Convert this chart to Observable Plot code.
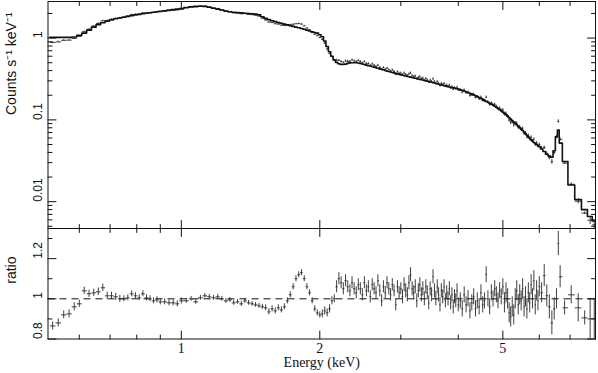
<!DOCTYPE html>
<html><head><meta charset="utf-8">
<script src="https://cdn.jsdelivr.net/npm/d3@7"></script>
<script src="https://cdn.jsdelivr.net/npm/@observablehq/plot@0.6"></script>
<style>
html,body{margin:0;padding:0;background:#fff;}
#chart{width:598px;}
#chart svg{display:block;}
#chart svg.lower{margin-top:-1px;}
</style></head><body><div id="chart"></div>
<script>
// Bin centre energies (keV)
const energy = [
  0.525,0.54,0.555,0.57,0.585,0.60,0.615,0.63,0.645,0.66,0.675,0.69,0.705,0.72,0.735,0.75,0.765,0.78,0.795,0.81,0.825,0.84,0.855,0.87,0.885,0.90,0.92,0.94,0.96,0.98,1.00,
  1.025,1.05,1.075,1.10,1.125,1.15,1.175,1.20,1.225,1.25,1.275,1.30,1.325,1.35,1.375,1.40,1.425,1.45,1.475,1.50,1.525,1.55,1.575,1.60,1.625,1.65,1.675,1.70,1.725,1.75,1.775,1.80,1.825,1.85,1.875,1.90,1.925,1.95,1.975,2.00,
  2.025,2.05,2.075,2.10,2.125,2.15,2.175,2.20,2.225,2.25,2.275,2.30,2.325,2.35,2.375,2.40,2.425,2.45,2.475,2.50,2.525,2.55,2.575,2.60,2.625,2.65,2.675,2.70,2.725,2.75,2.775,2.80,2.825,2.85,2.875,2.90,2.925,2.95,2.975,3.00,
  3.025,3.05,3.075,3.10,3.125,3.15,3.175,3.20,3.225,3.25,3.275,3.30,3.325,3.35,3.375,3.40,3.425,3.45,3.475,3.50,3.525,3.55,3.575,3.60,3.625,3.65,3.675,3.70,3.725,3.75,3.775,3.80,3.825,3.85,3.875,3.90,3.925,3.95,3.975,4.00,
  4.04,4.08,4.12,4.16,4.20,4.24,4.28,4.32,4.36,4.40,4.44,4.48,4.52,4.56,4.60,4.64,4.68,4.72,4.76,4.80,4.84,4.88,4.92,4.96,5.00,
  5.04,5.08,5.12,5.16,5.20,5.24,5.28,5.32,5.36,5.40,5.44,5.48,5.52,5.56,5.60,5.64,5.68,5.72,5.76,5.80,5.84,5.88,5.92,5.96,6.00,
  6.07,6.15,6.23,6.31,6.39,6.465,6.54,6.60,6.66,6.81,7.04,7.29,7.53,7.74,7.90
];
// Folded model (counts s^-1 keV^-1)
const model = [
  1.02,1.02,1.02,1.02,1.03,1.08,1.15,1.25,1.36,1.46,1.54,1.61,1.67,1.72,1.76,1.80,1.84,1.88,1.92,1.95,1.98,2.01,2.04,2.07,2.10,2.13,2.16,2.20,2.23,2.26,2.29,
  2.36,2.41,2.44,2.45,2.43,2.38,2.32,2.26,2.20,2.14,2.10,2.07,2.05,2.03,2.01,1.99,1.98,1.96,1.92,1.82,1.74,1.68,1.63,1.59,1.55,1.52,1.48,1.45,1.42,1.39,1.36,1.34,1.31,1.28,1.25,1.22,1.19,1.17,1.15,1.10,
  1.04,0.92,0.79,0.68,0.60,0.54,0.505,0.485,0.477,0.475,0.48,0.49,0.497,0.50,0.50,0.50,0.495,0.49,0.483,0.475,0.467,0.46,0.455,0.45,0.442,0.435,0.427,0.42,0.415,0.41,0.402,0.395,0.39,0.385,0.38,0.375,0.37,0.365,0.36,0.355,
  0.351,0.348,0.344,0.34,0.336,0.333,0.329,0.326,0.323,0.32,0.316,0.313,0.31,0.307,0.303,0.30,0.297,0.294,0.291,0.288,0.285,0.282,0.279,0.276,0.273,0.27,0.267,0.265,0.262,0.26,0.257,0.255,0.252,0.25,0.248,0.246,0.244,0.242,0.24,0.238,
  0.234,0.230,0.2255,0.221,0.216,0.211,0.2065,0.202,0.1975,0.193,0.188,0.183,0.178,0.173,0.1685,0.164,0.160,0.156,0.1515,0.147,0.1425,0.138,0.1335,0.129,0.1245,
  0.120,0.1155,0.111,0.1065,0.102,0.098,0.094,0.0905,0.087,0.0835,0.080,0.077,0.074,0.071,0.068,0.065,0.062,0.0595,0.057,0.055,0.053,0.0515,0.050,0.0485,0.047,
  0.044,0.041,0.038,0.036,0.035,0.042,0.062,0.075,0.052,0.031,0.016,0.0106,0.0080,0.0066,0.0058
];
// Data / model ratio
const ratio = [
  0.865,0.88,0.92,0.925,0.96,0.975,1.04,1.025,1.03,1.035,1.055,1.015,1.015,1.01,1.0,1.0,1.005,1.025,1.015,1.005,1.025,1.005,1.0,0.99,0.995,0.985,0.985,0.98,0.98,0.975,0.99,
  0.99,1.0,0.985,1.005,1.015,1.01,1.005,1.01,1.0,0.99,0.995,0.98,0.985,0.975,0.99,0.98,0.975,0.97,0.965,0.96,0.955,0.935,0.95,0.94,0.955,0.945,0.96,0.99,1.02,1.06,1.10,1.12,1.13,1.10,1.06,1.03,0.99,0.95,0.93,0.92,
  0.925,0.94,0.93,0.95,0.99,1.0,1.06,1.10,1.08,1.05,1.09,1.06,1.04,1.08,1.05,1.03,1.07,1.05,1.02,1.08,1.04,1.06,1.01,1.07,1.05,1.03,1.09,1.04,0.99,1.06,1.03,1.08,1.05,1.02,1.07,1.04,0.97,1.06,1.03,1.05,
  1.01,1.07,1.04,1.02,1.08,1.12,1.05,1.03,1.06,0.99,1.04,1.07,1.02,1.05,1.0,1.06,1.03,0.98,1.05,1.02,1.11,1.04,1.0,1.06,1.02,0.97,1.04,1.01,1.06,0.99,1.03,1.0,1.05,0.98,1.02,0.96,1.01,0.99,1.04,0.97,
  0.99,0.95,1.02,0.97,1.0,0.94,0.98,1.01,0.95,0.99,0.96,1.03,0.97,0.99,1.12,1.0,0.96,1.03,1.0,1.05,1.02,0.99,1.04,1.01,1.06,
  0.98,1.03,1.0,0.93,0.91,0.96,0.92,1.0,1.04,0.97,1.02,0.99,1.05,0.96,1.01,0.95,1.03,0.98,1.07,1.0,1.09,0.97,1.04,0.99,1.06,
  1.03,1.115,1.015,0.96,0.88,0.95,1.0,1.275,1.11,0.955,1.02,0.955,0.905,0.9,0.9
];
// 1-sigma ratio uncertainty
const ratioErr = [
  0.02,0.02,0.02,0.02,0.02,0.018,0.018,0.018,0.018,0.018,0.018,0.018,0.018,0.018,0.018,0.015,0.015,0.015,0.015,0.015,0.015,0.015,0.015,0.015,0.015,0.015,0.015,0.015,0.015,0.015,0.015,
  0.012,0.012,0.012,0.012,0.012,0.012,0.012,0.012,0.012,0.012,0.012,0.012,0.012,0.012,0.012,0.012,0.012,0.012,0.012,0.012,0.015,0.015,0.015,0.015,0.015,0.015,0.015,0.015,0.015,0.015,0.015,0.015,0.015,0.015,0.015,0.015,0.015,0.015,0.015,0.015,
  0.02,0.02,0.02,0.02,0.02,0.02,0.03,0.03,0.03,0.03,0.03,0.03,0.03,0.03,0.03,0.03,0.03,0.03,0.03,0.03,0.03,0.03,0.03,0.03,0.03,0.03,0.03,0.03,0.03,0.03,0.03,0.03,0.03,0.03,0.03,0.03,0.03,0.03,0.03,0.03,
  0.035,0.035,0.035,0.035,0.035,0.035,0.035,0.035,0.035,0.035,0.035,0.035,0.035,0.035,0.035,0.035,0.035,0.035,0.035,0.035,0.035,0.035,0.035,0.035,0.035,0.035,0.035,0.035,0.035,0.035,0.035,0.035,0.035,0.035,0.035,0.035,0.035,0.035,0.035,0.035,
  0.04,0.04,0.04,0.04,0.04,0.04,0.04,0.04,0.04,0.04,0.04,0.04,0.04,0.04,0.04,0.04,0.04,0.04,0.04,0.04,0.04,0.04,0.04,0.04,0.04,
  0.05,0.05,0.05,0.05,0.05,0.05,0.05,0.05,0.05,0.05,0.05,0.05,0.05,0.05,0.05,0.05,0.05,0.05,0.05,0.05,0.05,0.05,0.05,0.05,0.05,
  0.05,0.055,0.055,0.06,0.06,0.055,0.05,0.06,0.055,0.035,0.045,0.07,0.035,0.1,0.1
];
const energyTicks = [1, 2, 5];
const energyMinorTicks = [0.6, 0.7, 0.8, 0.9, 3, 4, 6, 7];
const countTicks = [0.01, 0.1, 1];
const countTickLabels = ["0.01", "0.1", "1"];
const countMinorTicks = [0.005,0.006,0.007,0.008,0.009,0.02,0.03,0.04,0.05,0.06,0.07,0.08,0.09,0.2,0.3,0.4,0.5,0.6,0.7,0.8,0.9,2];
const ratioTicks = [0.8, 1, 1.2];
const ratioTickLabels = ["0.8", "1", "1.2"];
const ratioMinorTicks = [0.9, 1.1, 1.3];

const ink = "#111";
const dataInk = "#2a2a2a";
const sans = "'Liberation Sans', Arial, sans-serif";
const serif = "'Liberation Serif', 'Times New Roman', serif";

const bins = energy.map((e, i) => {
  const lo = i === 0 ? e - (energy[1] - e) / 2 : (energy[i - 1] + e) / 2;
  const hi = i === energy.length - 1 ? e + (e - energy[i - 1]) : (e + energy[i + 1]) / 2;
  return {e, lo, hi, m: model[i], r: ratio[i], re: ratioErr[i], c: model[i] * ratio[i], ce: model[i] * ratioErr[i]};
});
const modelSteps = bins.flatMap(b => [{x: b.lo, y: b.m}, {x: b.hi, y: b.m}]);

const lineShape = {draw(ctx, l) { ctx.moveTo(0, 0); ctx.lineTo(0, -l); }};
function frameTicks(values, ch, len) {
  const sides = ch === "x" ? [["bottom", 0], ["top", 180]] : [["left", 90], ["right", -90]];
  return sides.map(([side, rot]) => Plot.vector(values, {
    [ch]: d => d, frameAnchor: side, rotate: rot, length: len, anchor: "start",
    shape: lineShape, stroke: ink, strokeWidth: 1
  }));
}
const xDomain = [0.513, 7.95];

const upperPlot = Plot.plot({
  width: 598, height: 229,
  marginLeft: 47.5, marginRight: 3, marginTop: 1, marginBottom: 1,
  style: {background: "none", fontFamily: sans},
  x: {type: "log", domain: xDomain, axis: null},
  y: {type: "log", domain: [0.0047, 2.8], axis: null},
  marks: [
    Plot.link(bins, {x1: "lo", x2: "hi", y1: "c", y2: "c", stroke: dataInk, strokeWidth: 0.9, clip: true}),
    Plot.ruleX(bins, {x: "e", y1: d => d.c - d.ce, y2: d => d.c + d.ce, stroke: dataInk, strokeWidth: 0.9, clip: true}),
    Plot.line(modelSteps, {x: "x", y: "y", stroke: ink, strokeWidth: 1.6, clip: true}),
    Plot.frame({stroke: ink, strokeWidth: 1}),
    ...frameTicks(energyTicks, "x", 8),
    ...frameTicks(energyMinorTicks, "x", 4),
    ...frameTicks(countTicks, "y", 8),
    ...frameTicks(countMinorTicks, "y", 4),
    Plot.text(countTicks, {y: d => d, text: (d, i) => countTickLabels[i], frameAnchor: "left", dx: -10, rotate: -90, fontSize: 12, fill: ink}),
    Plot.text(["Counts s\u207B\u00B9 keV\u207B\u00B9"], {text: d => d, frameAnchor: "left", dx: -36, rotate: -90, fontSize: 14, fill: ink})
  ]
});

const lowerPlot = Plot.plot({
  width: 598, height: 145,
  marginLeft: 47.5, marginRight: 3, marginTop: 0, marginBottom: 34.5,
  style: {background: "none", fontFamily: sans},
  x: {type: "log", domain: xDomain, axis: null},
  y: {domain: [0.8, 1.35], axis: null},
  marks: [
    Plot.ruleY([1], {stroke: ink, strokeWidth: 1, strokeDasharray: "7,5"}),
    Plot.link(bins, {x1: "lo", x2: "hi", y1: "r", y2: "r", stroke: dataInk, strokeWidth: 0.9, clip: true}),
    Plot.ruleX(bins, {x: "e", y1: d => d.r - d.re, y2: d => d.r + d.re, stroke: dataInk, strokeWidth: 0.9, clip: true}),
    Plot.frame({stroke: ink, strokeWidth: 1}),
    ...frameTicks(energyTicks, "x", 8),
    ...frameTicks(energyMinorTicks, "x", 4),
    ...frameTicks(ratioTicks, "y", 8),
    ...frameTicks(ratioMinorTicks, "y", 4),
    Plot.text(ratioTicks, {y: d => d, text: (d, i) => ratioTickLabels[i], frameAnchor: "left", dx: -10, rotate: -90, fontSize: 12, fill: ink}),
    Plot.text(["ratio"], {text: d => d, frameAnchor: "left", dx: -36, rotate: -90, fontSize: 14, fill: ink}),
    Plot.text(energyTicks, {x: d => d, text: d => String(d), frameAnchor: "bottom", dy: 14, fontFamily: serif, fontSize: 14, fill: ink}),
    Plot.text(["Energy (keV)"], {text: d => d, frameAnchor: "bottom", dy: 28, fontFamily: serif, fontSize: 14, fill: ink})
  ]
});
lowerPlot.classList.add("lower");
const chart = document.getElementById("chart");
chart.appendChild(upperPlot);
chart.appendChild(lowerPlot);
</script></body></html>
